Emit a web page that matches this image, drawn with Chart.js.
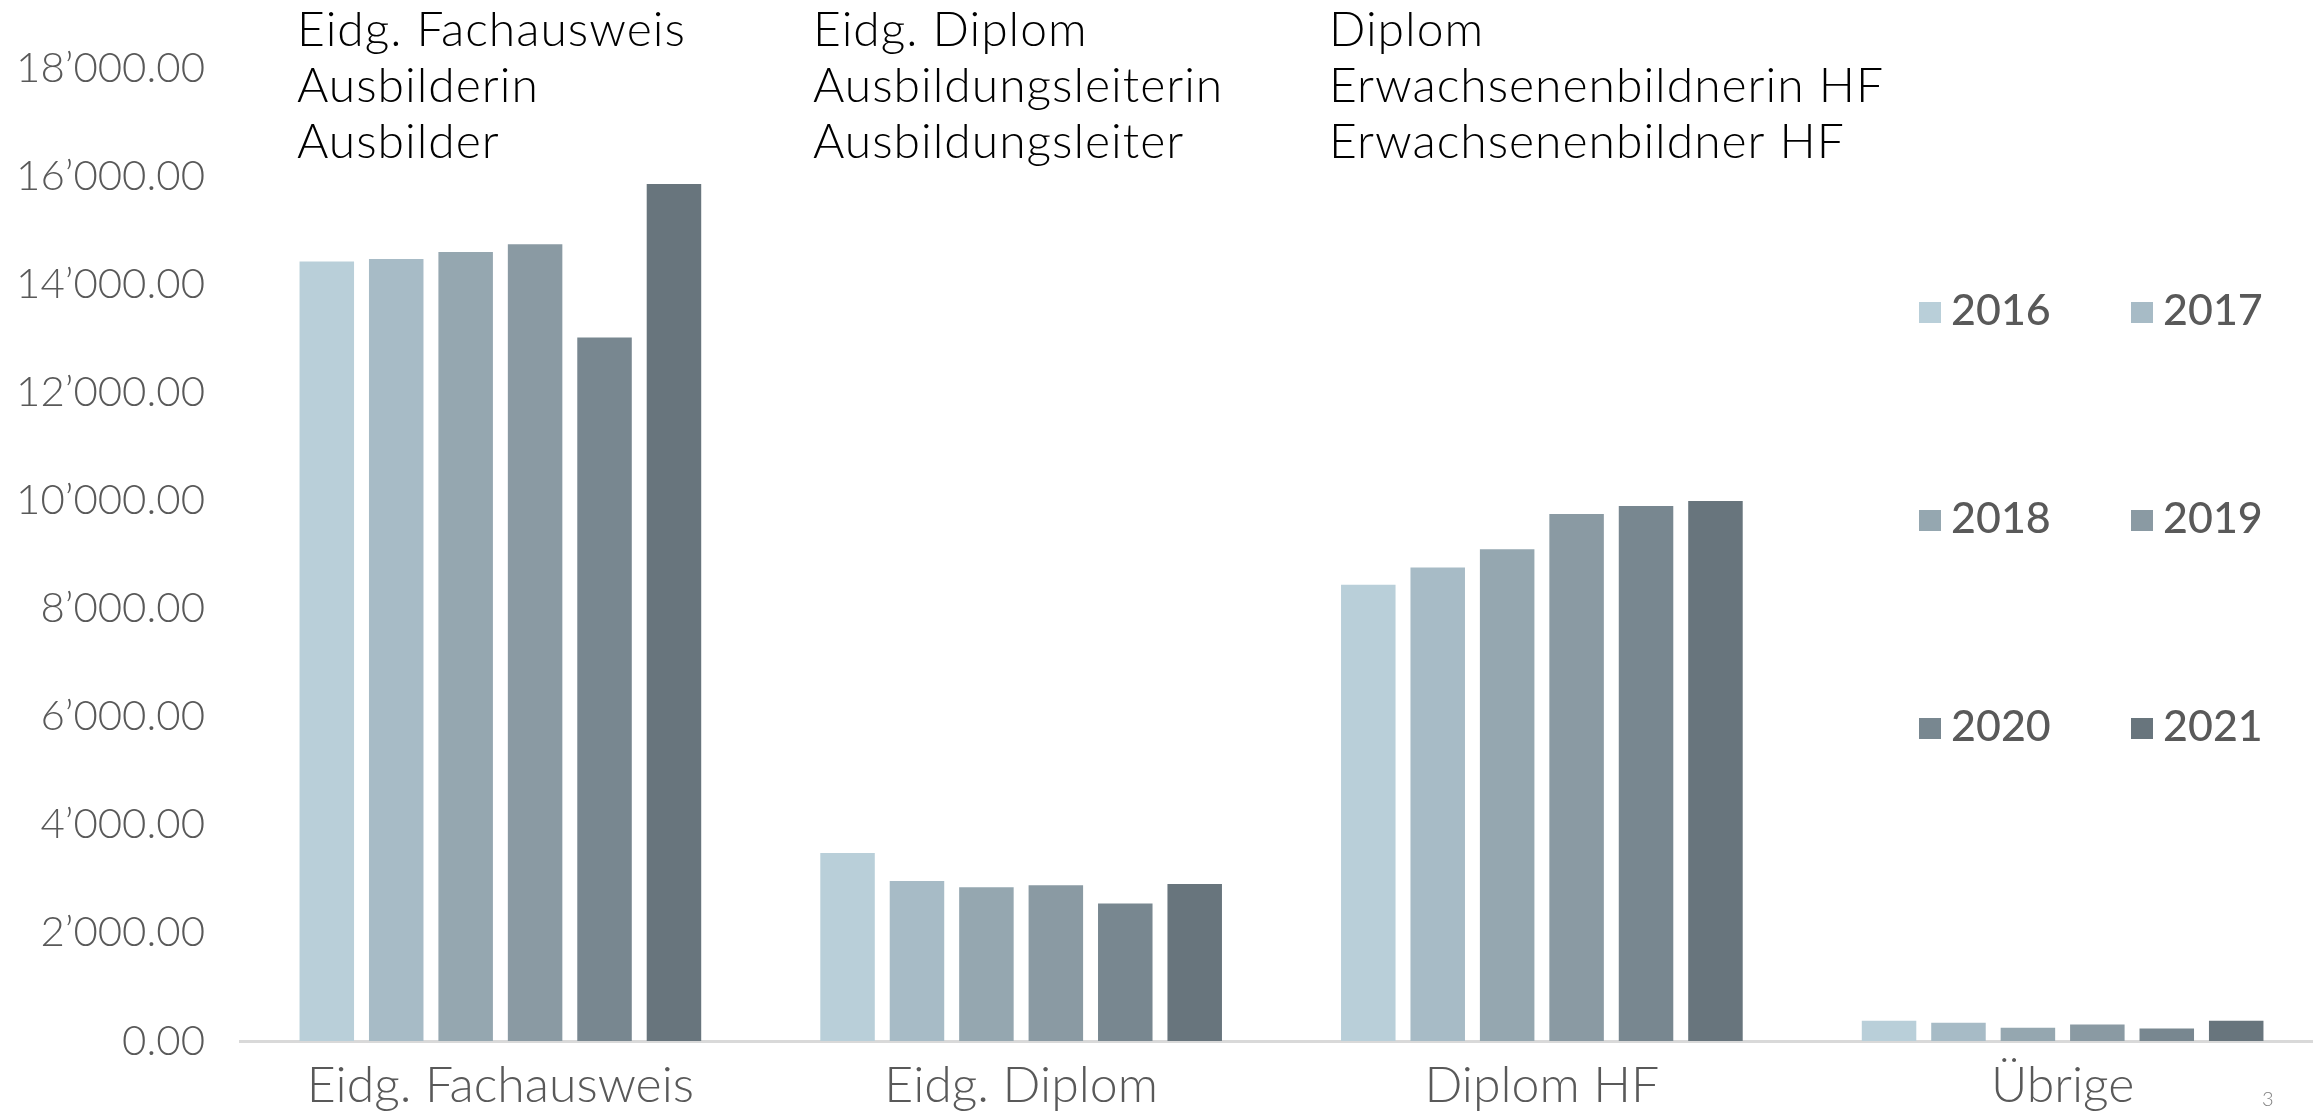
<!DOCTYPE html>
<html>
<head>
<meta charset="utf-8">
<script src="https://cdn.jsdelivr.net/npm/chart.js@4.4.1/dist/chart.umd.min.js"></script>
<style>
  html, body { margin: 0; padding: 0; background: #fff; overflow: hidden; }
  #wrap { position: relative; width: 2313px; height: 1113px; overflow: hidden; }
  #pageNo { position: absolute; left: 2262px; top: 1086px; font: 300 20px Lato, sans-serif; color: #7f7f7f; }
</style>
</head>
<body>
<div id="wrap">
  <canvas id="barChart" width="2323" height="1113"></canvas>
  <div id="pageNo">3</div>
</div>
<script>
const categories = ['Eidg. Fachausweis', 'Eidg. Diplom', 'Diplom HF', 'Übrige'];
const years = ['2016', '2017', '2018', '2019', '2020', '2021'];
const values2016 = [14420, 3480, 8440, 375];
const values2017 = [14465, 2960, 8760, 338];
const values2018 = [14595, 2845, 9095, 246];
const values2019 = [14740, 2880, 9750, 307];
const values2020 = [13015, 2545, 9895, 233];
const values2021 = [15855, 2905, 9990, 375];
const yearColors = ['#b9cfd9', '#a7bbc6', '#95a7b0', '#8a9aa3', '#788790', '#68757d'];
const yMax = 18000;
const yStep = 2000;
const headNotes = [
    ['Eidg. Fachausweis', 'Ausbilderin', 'Ausbilder'],
    ['Eidg. Diplom', 'Ausbildungsleiterin', 'Ausbildungsleiter'],
    ['Diplom', 'Erwachsenenbildnerin HF', 'Erwachsenenbildner HF']
];

const allValues = [values2016, values2017, values2018, values2019, values2020, values2021];

// 18'000.00 style
function swissNumber(v) {
    var parts = Number(v).toFixed(2).split('.');
    return parts[0].replace(/\B(?=(\d{3})+(?!\d))/g, '\u2019') + '.' + parts[1];
}

// header texts above the groups
const headNotesPlugin = {
    id: 'headNotes',
    afterDraw(chart) {
        var ctx = chart.ctx;
        var xs = [297, 813, 1329];
        ctx.save();
        ctx.font = '300 48px Lato, sans-serif';
        ctx.letterSpacing = '1px';
        ctx.fillStyle = '#000';
        ctx.textAlign = 'left';
        ctx.textBaseline = 'alphabetic';
        headNotes.forEach(function (lines, i) {
            lines.forEach(function (line, j) {
                ctx.fillText(line, xs[i], 46 + j * 56);
            });
        });
        ctx.restore();
    }
};

// legend as 3 rows x 2 columns
const gridLegendPlugin = {
    id: 'gridLegend',
    afterDraw(chart) {
        var ctx = chart.ctx;
        ctx.save();
        ctx.font = '500 43px Lato, sans-serif';
        ctx.textBaseline = 'middle';
        chart.data.datasets.forEach(function (ds, i) {
            var col = i % 2, row = Math.floor(i / 2);
            var x = 1919 + col * 212;
            var y = 302 + row * 208;
            ctx.fillStyle = ds.backgroundColor;
            ctx.fillRect(x, y, 22, 21);
            ctx.fillStyle = '#595959';
            ctx.fillText(ds.label, x + 32, y + 9);
        });
        ctx.restore();
    }
};

var ctxB = document.getElementById('barChart').getContext('2d');
new Chart(ctxB, {
    type: 'bar',
    data: {
        labels: categories,
        datasets: years.map(function (y, i) {
            return {
                label: y,
                data: allValues[i],
                backgroundColor: yearColors[i],
                borderWidth: 0,
                categoryPercentage: 0.8,
                barPercentage: 0.785
            };
        })
    },
    options: {
        responsive: false,
        animation: false,
        devicePixelRatio: 1,
        layout: { padding: { top: 68, right: 0, left: 0, bottom: 0 } },
        plugins: {
            legend: { display: false },
            tooltip: { enabled: false }
        },
        scales: {
            x: {
                grid: { display: false, drawTicks: false },
                border: { display: true, color: '#d9d9d9', width: 3 },
                ticks: {
                    padding: 15,
                    color: '#595959',
                    font: { family: 'Lato', size: 50, weight: '300' }
                },
                afterFit: function (scale) { scale.height = 72; }
            },
            y: {
                min: 0,
                max: yMax,
                grid: { display: false, drawTicks: false },
                border: { display: false },
                ticks: {
                    stepSize: yStep,
                    padding: 35,
                    color: '#595959',
                    font: { family: 'Lato', size: 42, weight: '300' },
                    callback: function (v) { return swissNumber(v); }
                },
                afterFit: function (scale) { scale.width = 240; }
            }
        }
    },
    plugins: [headNotesPlugin, gridLegendPlugin]
});
</script>
</body>
</html>
